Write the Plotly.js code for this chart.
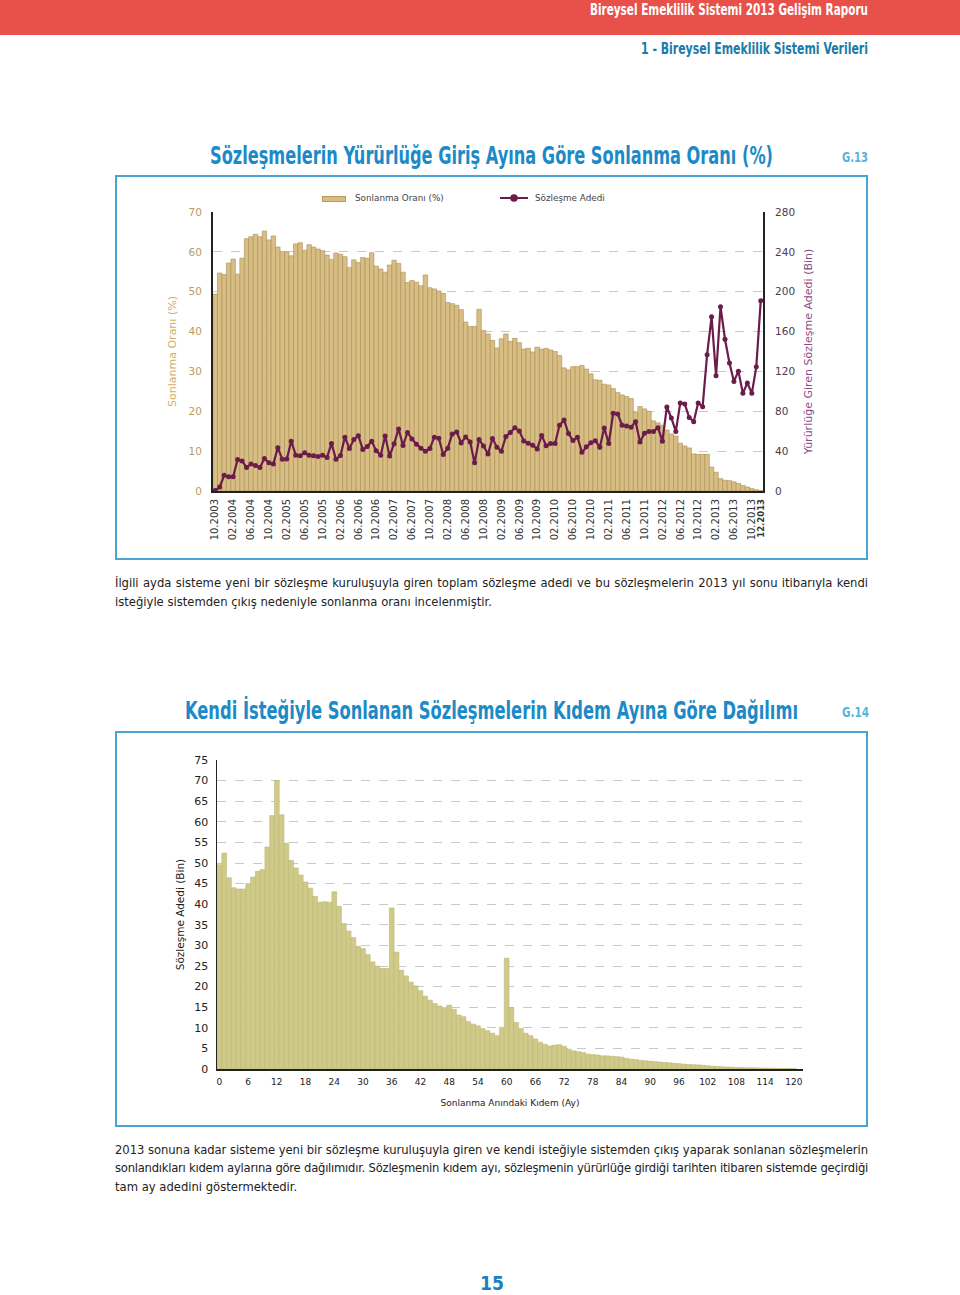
<!DOCTYPE html>
<html><head><meta charset="utf-8">
<script src="https://cdn.plot.ly/plotly-3.0.1.min.js"></script>
<style>
body{margin:0;background:#fff;}
#page{position:relative;width:960px;height:1295px;overflow:hidden;font-family:"DejaVu Sans",Verdana,sans-serif;background:#fff;}
.abs{position:absolute;white-space:nowrap;}
.cond{font-family:"Liberation Sans Narrow","DejaVu Sans Condensed","Liberation Sans",sans-serif;font-weight:bold;line-height:1;transform-origin:0 50%;}
#hdr{position:absolute;left:0;top:0;width:960px;height:35px;background:#E8504A;}
.box{position:absolute;border:2px solid #4BA3D3;box-sizing:border-box;}
.para{position:absolute;left:115px;width:753px;font-size:11.6px;color:#222;}
.para div{text-align:justify;text-align-last:justify;white-space:nowrap;}
.para div.last{text-align:left;text-align-last:left;}
.plot{position:absolute;}
.lg{position:absolute;font-size:8.8px;color:#444;line-height:12px;white-space:nowrap;}
</style></head>
<body><div id="page">
<div id="hdr"></div>
<div class="abs cond fit" data-w="278" style="left:590px;top:2.5px;font-size:15px;color:#fff;">Bireysel Emeklilik Sistemi 2013 Gelişim Raporu</div>
<div class="abs cond fit" data-w="227" style="left:641px;top:41.5px;font-size:15px;color:#1B7BAA;">1 - Bireysel Emeklilik Sistemi Verileri</div>

<div class="abs cond fit" data-w="563" style="left:210px;top:143.5px;font-size:24px;color:#1C8AC6;">Sözleşmelerin Yürürlüğe Giriş Ayına Göre Sonlanma Oranı (%)</div>
<div class="abs cond fit" data-w="26" style="left:842px;top:150px;font-size:14px;color:#55B4E0;">G.13</div>
<div class="box" style="left:115px;top:175px;width:753px;height:385px;"></div>
<div id="chart1" class="plot" style="left:117px;top:177px;width:749px;height:381px;"></div>

<!-- legend of G.13 -->
<div style="position:absolute;left:322px;top:195.5px;width:24px;height:6px;background:#D9BE84;border:0.5px solid #B89B62;box-sizing:border-box;"></div>
<div class="lg" style="left:355px;top:192px;">Sonlanma Oranı (%)</div>
<svg style="position:absolute;left:500px;top:192px;" width="30" height="12"><line x1="0" y1="6" x2="28" y2="6" stroke="#6B1C4B" stroke-width="2"/><circle cx="14" cy="6" r="3.8" fill="#6B1C4B"/></svg>
<div class="lg" style="left:535px;top:192px;">Sözleşme Adedi</div>

<div class="para" style="top:573.5px;line-height:19px;">
<div><span>İlgili ayda sisteme yeni bir sözleşme kuruluşuyla giren toplam sözleşme adedi ve bu sözleşmelerin 2013 yıl sonu itibarıyla kendi</span></div>
<div class="last"><span>isteğiyle sistemden çıkış nedeniyle sonlanma oranı incelenmiştir.</span></div>
</div>

<div class="abs cond fit" data-w="613" style="left:185px;top:698.5px;font-size:24px;color:#1C8AC6;">Kendi İsteğiyle Sonlanan Sözleşmelerin Kıdem Ayına Göre Dağılımı</div>
<div class="abs cond fit" data-w="27" style="left:842px;top:705px;font-size:14px;color:#55B4E0;">G.14</div>
<div class="box" style="left:115px;top:731px;width:753px;height:396px;"></div>
<div id="chart2" class="plot" style="left:117px;top:733px;width:749px;height:392px;"></div>

<div class="para" style="top:1140.5px;line-height:18.5px;">
<div><span>2013 sonuna kadar sisteme yeni bir sözleşme kuruluşuyla giren ve kendi isteğiyle sistemden çıkış yaparak sonlanan sözleşmelerin</span></div>
<div><span>sonlandıkları kıdem aylarına göre dağılımıdır. Sözleşmenin kıdem ayı, sözleşmenin yürürlüğe girdiği tarihten itibaren sistemde geçirdiği</span></div>
<div class="last"><span>tam ay adedini göstermektedir.</span></div>
</div>

<div class="abs cond fit" data-w="24" style="left:479.5px;top:1274px;font-size:19px;line-height:19px;color:#1E7FC0;">15</div>
</div>

<script>
// ---------- Chart G.13 data ----------
const months = [
"10.2003","11.2003","12.2003",
"01.2004","02.2004","03.2004","04.2004","05.2004","06.2004","07.2004","08.2004","09.2004","10.2004","11.2004","12.2004",
"01.2005","02.2005","03.2005","04.2005","05.2005","06.2005","07.2005","08.2005","09.2005","10.2005","11.2005","12.2005",
"01.2006","02.2006","03.2006","04.2006","05.2006","06.2006","07.2006","08.2006","09.2006","10.2006","11.2006","12.2006",
"01.2007","02.2007","03.2007","04.2007","05.2007","06.2007","07.2007","08.2007","09.2007","10.2007","11.2007","12.2007",
"01.2008","02.2008","03.2008","04.2008","05.2008","06.2008","07.2008","08.2008","09.2008","10.2008","11.2008","12.2008",
"01.2009","02.2009","03.2009","04.2009","05.2009","06.2009","07.2009","08.2009","09.2009","10.2009","11.2009","12.2009",
"01.2010","02.2010","03.2010","04.2010","05.2010","06.2010","07.2010","08.2010","09.2010","10.2010","11.2010","12.2010",
"01.2011","02.2011","03.2011","04.2011","05.2011","06.2011","07.2011","08.2011","09.2011","10.2011","11.2011","12.2011",
"01.2012","02.2012","03.2012","04.2012","05.2012","06.2012","07.2012","08.2012","09.2012","10.2012","11.2012","12.2012",
"01.2013","02.2013","03.2013","04.2013","05.2013","06.2013","07.2013","08.2013","09.2013","10.2013","11.2013","12.2013"
];
const terminationRate = [
49.4,54.7,54.3,57.2,58.2,54.4,58.4,63.3,63.8,64.4,63.8,65.2,63.0,64.0,61.2,60.1,60.0,59.0,62.0,62.3,60.4,61.8,61.2,60.7,
60.3,59.2,58.1,59.7,59.4,58.8,56.1,58.0,57.3,58.6,58.4,59.8,56.4,55.7,54.9,56.7,57.9,57.1,54.9,52.3,52.8,52.4,51.5,54.2,51.0,50.7,
50.2,49.6,47.3,47.0,46.6,45.5,42.4,41.3,41.3,45.6,
40.3,39.4,37.8,35.9,38.2,39.4,37.5,38.3,37.2,35.6,35.8,34.9,36.1,35.6,35.8,35.4,35.0,34.0,
30.9,30.4,31.2,31.2,31.5,30.6,29.4,27.9,27.8,26.8,26.6,25.7,24.7,24.1,23.7,23.2,
19.8,21.2,20.6,20.0,17.6,17.1,
16.5,15.3,14.3,13.8,12.0,11.3,10.8,9.3,9.2,9.2,9.2,6.0,4.7,3.1,2.7,2.6,2.3,1.9,1.4,1.0,0.6,0.3,0.1
];
const contractCount = [
0.5,4,15.7,14.3,14.3,31.5,30.2,23.7,27.2,25.7,
23.7,32.5,28.3,27.2,43.5,31.8,32,50,36,35.3,
38.3,35.8,35.3,34.7,35.8,33.7,47.7,31.8,35.6,54,
42.7,51.6,55.5,41.7,44.6,50,40.3,36,55.2,35.2,
47.3,62.3,45.7,58.7,52.3,47,43,39.8,42.7,54,
53,36.7,43,57.3,59.2,48.2,54.3,49.3,28.3,51.7,
45.2,37.2,52.7,44,40,54.6,58.7,63.5,60.3,50.3,
48,46,42.2,55.8,45.5,47.7,47.7,66,71.3,57.7,
50.6,54,39,44.3,48.5,50.5,43.8,63.3,47.7,78,
77.2,66,65.3,64,69.6,49.3,58,59.8,59.8,63.5,
50,84.3,73.3,59.8,88.3,87.3,73.7,69.6,88.3,84.6,
136.8,175,115.6,185,152.3,128.5,110,120.3,98,108.5,
98,124.6,191
];
const tickMonths = ["10.2003","02.2004","06.2004","10.2004","02.2005","06.2005","10.2005","02.2006","06.2006","10.2006",
"02.2007","06.2007","10.2007","02.2008","06.2008","10.2008","02.2009","06.2009","10.2009","02.2010","06.2010","10.2010",
"02.2011","06.2011","10.2011","02.2012","06.2012","10.2012","02.2013","06.2013","10.2013","12.2013"];
const tickMonthText = tickMonths.map(t => t === "12.2013" ? '<b><span style="font-size:8.5px">12.2013</span></b>' : t);

// ---------- Chart G.14 data ----------
const tenureMonth = [
0,1,2,3,4,5,6,7,8,9,10,11,12,13,14,15,16,17,18,19,20,21,22,23,24,25,26,27,28,29,
30,31,32,33,34,35,36,37,38,39,40,41,42,43,44,45,46,47,48,49,50,51,52,53,54,55,56,57,58,59,
60,61,62,63,64,65,66,67,68,69,70,71,72,73,74,75,76,77,78,79,80,81,82,83,84,85,86,87,88,89,
90,91,92,93,94,95,96,97,98,99,100,101,102,103,104,105,106,107,108,109,110,111,112,113,114,115,116,117,118,119,120
];
const terminatedCount = [
49.6,52.4,46.4,44.0,43.7,43.7,45.0,46.6,48.0,48.4,
53.9,61.5,70.0,61.7,54.8,50.6,48.8,47.1,45.4,43.9,
41.9,40.5,40.6,40.5,43.0,39.5,35.3,33.5,31.9,29.8,
29.2,27.8,26.0,25.0,24.4,24.4,39.1,28.4,24.0,22.6,
21.1,20.2,19.0,17.7,16.7,15.9,15.3,14.9,15.5,14.5,
13.1,12.7,11.5,10.9,10.5,9.8,9.3,8.7,8.1,10.1,
26.9,14.9,11.3,9.8,8.7,8.1,7.3,6.5,6.0,5.6,
5.8,5.9,5.5,4.8,4.4,4.2,4.0,3.6,3.5,3.4,
3.2,3.2,3.1,3.0,2.9,2.6,2.4,2.3,2.1,2.0,
1.9,1.8,1.7,1.6,1.5,1.4,1.3,1.2,1.1,1.05,
1.0,0.9,0.8,0.7,0.65,0.55,0.5,0.45,0.4,0.35,
0.32,0.3,0.27,0.25,0.22,0.2,0.18,0.15,0.13,0.12,
0.1
];
const tenureTicks = [0,6,12,18,24,30,36,42,48,54,60,66,72,78,84,90,96,102,108,114,120];

const FONT = "DejaVu Sans, Verdana, sans-serif";

// ---------- Chart 1 ----------
const traces1 = [
  {type:'bar', x: months, y: terminationRate, name:'Sonlanma Oranı (%)',
   marker:{color:'#D9BE84', line:{color:'#A88E58', width:0.6}}, hoverinfo:'skip'},
  {type:'scatter', mode:'lines+markers', x: months, y: contractCount, yaxis:'y2', name:'Sözleşme Adedi',
   line:{color:'#6B1C4B', width:2.2}, marker:{color:'#6B1C4B', size:5}, hoverinfo:'skip'}
];
const layout1 = {
  width:749, height:381,
  margin:{l:95.5, r:102.5, t:35, b:67, pad:0},
  paper_bgcolor:'rgba(0,0,0,0)', plot_bgcolor:'rgba(0,0,0,0)',
  bargap:0,
  font:{family:FONT},
  showlegend:false,
  xaxis:{type:'category', range:[-0.5,122.5], tickmode:'array', tickvals:tickMonths, ticktext:tickMonthText,
    tickangle:-90, tickfont:{family:FONT, size:10, color:'#333'}, ticks:'', ticklabelstandoff:2,
    showline:true, linecolor:'#222', linewidth:2, showgrid:false, zeroline:false, fixedrange:true, automargin:false},
  yaxis:{range:[0,70], dtick:10, showgrid:true, gridcolor:'#c8c8c8', griddash:'dash', gridwidth:1,
    showline:true, linecolor:'#222', linewidth:2, zeroline:false, ticks:'', ticklabelstandoff:7, automargin:false,
    tickfont:{family:FONT, size:10.5, color:'#B99B60'},
    title:{text:'Sonlanma Oranı (%)', font:{family:FONT, size:11, color:'#D2AE66'}, standoff:10}},
  yaxis2:{overlaying:'y', side:'right', range:[0,280], dtick:40, showgrid:false, automargin:false,
    showline:true, linecolor:'#222', linewidth:2, zeroline:false, ticks:'', ticklabelstandoff:8,
    tickfont:{family:FONT, size:10.5, color:'#4D3A4A'},
    title:{text:'Yürürlüğe Giren Sözleşme Adedi (Bin)', font:{family:FONT, size:11, color:'#8A4B86'}, standoff:10}}
};

// ---------- Chart 2 ----------
const traces2 = [
  {type:'bar', x: tenureMonth, y: terminatedCount, name:'Sözleşme Adedi (Bin)',
   marker:{color:'#D0CA88', line:{color:'#B9B273', width:0.5}}, hoverinfo:'skip'}
];
const layout2 = {
  width:749, height:392,
  margin:{l:100, r:63, t:26.5, b:55.5, pad:0},
  paper_bgcolor:'rgba(0,0,0,0)', plot_bgcolor:'rgba(0,0,0,0)',
  bargap:0, showlegend:false,
  font:{family:FONT},
  xaxis:{range:[-0.5,121.9], tickmode:'array', tickvals:tenureTicks, ticks:'', ticklabelstandoff:3, automargin:false,
    tickfont:{family:FONT, size:9, color:'#222'}, showline:true, linecolor:'#222', linewidth:2,
    showgrid:false, zeroline:false,
    title:{text:'Sonlanma Anındaki Kıdem (Ay)', font:{family:FONT, size:9, color:'#222'}, standoff:14}},
  yaxis:{range:[0,75], dtick:5, showgrid:true, gridcolor:'#c8c8c8', griddash:'dash', gridwidth:1, automargin:false,
    showline:true, linecolor:'#222', linewidth:1.5, zeroline:false, ticks:'', ticklabelstandoff:5,
    tickfont:{family:FONT, size:11, color:'#222'},
    title:{text:'Sözleşme Adedi (Bin)', font:{family:FONT, size:10.5, color:'#222'}, standoff:7}}
};

const cfg = {staticPlot:true, displayModeBar:false};
Plotly.newPlot('chart1', traces1, layout1, cfg);
Plotly.newPlot('chart2', traces2, layout2, cfg);

function fitText(){
  document.querySelectorAll('.fit').forEach(el => {
    el.style.transform = '';
    const w = el.getBoundingClientRect().width;
    const target = parseFloat(el.dataset.w);
    if (w > 0) el.style.transform = 'scaleX(' + (target / w) + ')';
  });
  document.querySelectorAll('.para span').forEach(sp => {
    sp.style.letterSpacing = '';
    const w = sp.getBoundingClientRect().width;
    if (w > 752) {
      const n = sp.textContent.length;
      sp.style.letterSpacing = (-(w - 751) / n) + 'px';
    }
  });
}
fitText();
if (document.fonts && document.fonts.ready) document.fonts.ready.then(fitText);
</script>
</body></html>
